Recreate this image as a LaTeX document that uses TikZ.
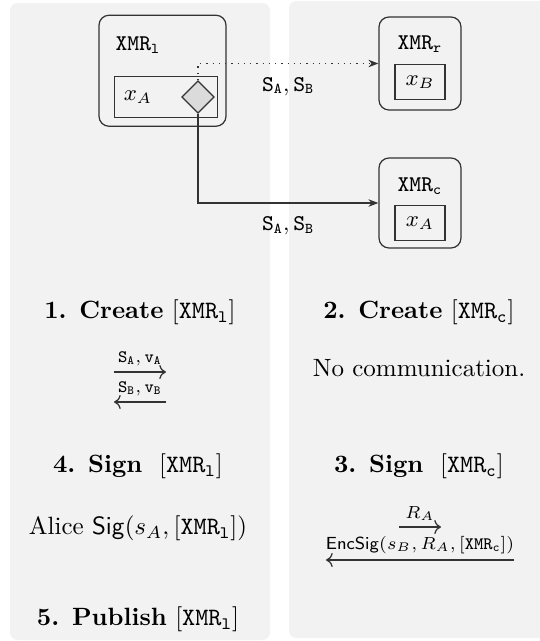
\documentclass[tikz,border=0pt]{standalone}
\usetikzlibrary{arrows.meta,shapes.geometric}
\definecolor{panelgray}{gray}{0.95}
\definecolor{linegray}{gray}{0.2}
\definecolor{diagray}{gray}{0.86}
\newcommand{\xmrname}[1]{\mathtt{XMR}_{\mathtt{#1}}}
\begin{document}
\begin{tikzpicture}[x=0.4pt,y=-0.4pt,
    panel/.style={fill=panelgray,draw=none,rounded corners=3pt},
    wallet/.style={draw=linegray,line width=0.5pt,rounded corners=4pt,inner sep=0pt},
    keybox/.style={draw=linegray,line width=0.5pt,inner sep=0pt,minimum width=20pt,minimum height=13.8pt},
    msg/.style={->,line width=0.5pt,linegray}]
  \useasboundingbox (0,0) rectangle (540,641);
  % Panels
  \fill[panel] (10,3) rectangle (270,640);
  \fill[panel] (289,1) rectangle (548,638);
  % Outputs
  \node[wallet,minimum width=50.8pt,minimum height=44.4pt] (xmrl) at (162.5,70.75) {};
  \node[font=\small] (xmrllabel) at (138,45) {$\xmrname{l}$};
  \node[draw=linegray,line width=0.5pt,inner sep=0pt,minimum width=41.2pt,minimum height=16.2pt] (xmrlkey) at (166,97) {};
  \node[font=\small] (xa) at (138,97) {$x_A$};
  \node[diamond,draw=linegray,fill=diagray,line width=0.5pt,inner sep=0pt,minimum size=13pt] (dia) at (198,97) {};
  \node[wallet,minimum width=32.8pt,minimum height=37.2pt] (xmrr) at (420,63.5) {};
  \node[font=\small] (xmrrlabel) at (420,44) {$\xmrname{r}$};
  \node[keybox,font=\small] (xb) at (420,82) {$x_B$};
  \node[wallet,minimum width=32.8pt,minimum height=36pt] (xmrc) at (420,203) {};
  \node[font=\small] (xmrclabel) at (420,186) {$\xmrname{c}$};
  \node[keybox,font=\small] (xc) at (420,223) {$x_A$};
  % Transitions
  \draw[linegray,line width=0.5pt,dotted,-{Stealth[length=4pt,width=3pt]}] (dia.north) |- (xmrr.west)
    node[pos=0.75,below=2pt,text=black,font=\small] (lr) {$\mathtt{S_A}, \mathtt{S_B}$};
  \draw[linegray,line width=0.5pt,-{Stealth[length=4pt,width=3pt]}] (dia.south) |- (xmrc.west)
    node[pos=0.75,below=2pt,text=black,font=\small] (lc) {$\mathtt{S_A}, \mathtt{S_B}$};
  % Steps
  \node (step1) at (140,312) {\textbf{1. Create} $[\xmrname{l}]$};
  \node (step2) at (419,312) {\textbf{2. Create} $[\xmrname{c}]$};
  \node (nocomm) at (419,368) {No communication.};
  \node (step4) at (138,466) {\textbf{4. Sign} \ $[\xmrname{l}]$};
  \node (step3) at (419,466) {\textbf{3. Sign} \ $[\xmrname{c}]$};
  \node (alice) at (138,528) {Alice $\mathsf{Sig}(s_A,[\xmrname{l}])$};
  \node (step5) at (138,619) {\textbf{5. Publish} $[\xmrname{l}]$};
  % Messages
  \coordinate (m1a) at (114,372);
  \coordinate (m1b) at (166,372);
  \coordinate (m2a) at (114,402);
  \coordinate (m2b) at (166,402);
  \draw[msg] (m1a) -- node[above=-1pt,font=\scriptsize,text=black] (m1) {$\mathtt{S_A}, \mathtt{v_A}$} (m1b);
  \draw[msg] (m2b) -- node[above=-1pt,font=\scriptsize,text=black] (m2) {$\mathtt{S_B}, \mathtt{v_B}$} (m2a);
  \coordinate (m3a) at (399,527);
  \coordinate (m3b) at (441,527);
  \coordinate (m4a) at (326,560);
  \coordinate (m4b) at (514,560);
  \draw[msg] (m3a) -- node[above=-1pt,font=\scriptsize,text=black] (m3) {$R_A$} (m3b);
  \draw[msg] (m4b) -- node[above=-1pt,font=\scriptsize,text=black] (m4) {$\mathsf{EncSig}(s_B, R_A, [\xmrname{c}])$} (m4a);
\end{tikzpicture}
\end{document}
